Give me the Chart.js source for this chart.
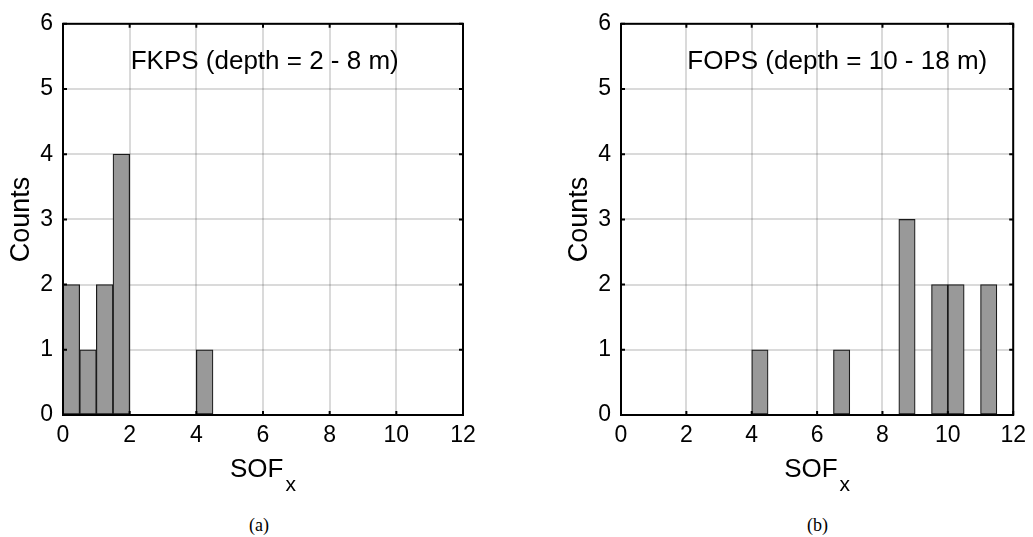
<!DOCTYPE html>
<html>
<head>
<meta charset="utf-8">
<script src="https://cdn.jsdelivr.net/npm/chart.js@4.4.0/dist/chart.umd.min.js"></script>
<style>
  body { margin: 0; background: #fff; width: 1033px; height: 537px; position: relative; overflow: hidden; }
  .panel { position: absolute; top: 0; }
  .caption { position: absolute; top: 516px; font-family: "Liberation Serif", "DejaVu Serif", serif; font-size: 18px; line-height: 18px; color: #000; }
</style>
</head>
<body>
<div class="panel" style="left:0"><canvas id="chartA" width="500" height="505"></canvas></div>
<div class="panel" style="left:558px"><canvas id="chartB" width="475" height="505"></canvas></div>
<div class="caption" style="left:249px">(a)</div>
<div class="caption" style="left:807px">(b)</div>

<script>
// histogram bins (left edge of each non-empty bin) and counts
const binWidth = 0.5;
const binStartA = [0, 0.5, 1, 1.5, 4];
const countsA = [2, 1, 2, 4, 1];
const binStartB = [4, 6.5, 8.5, 9.5, 10, 11];
const countsB = [1, 1, 3, 2, 2, 2];

// axis ticks
const xTicks = [0, 2, 4, 6, 8, 10, 12];
const yTicks = [0, 1, 2, 3, 4, 5, 6];

const labelA = "FKPS (depth = 2 - 8 m)";
const labelB = "FOPS (depth = 10 - 18 m)";

const FONT = '"Liberation Sans", Arial, Helvetica, sans-serif';

// box, inner tick marks, in-plot label and SOF_x title
const framePlugin = {
  id: 'frame',
  afterDraw(chart, args, opts) {
    const { ctx, chartArea: a, scales: { x, y } } = chart;
    ctx.save();
    ctx.strokeStyle = '#000';
    ctx.lineWidth = 2;
    ctx.beginPath();
    x.ticks.forEach(t => {
      const px = x.getPixelForValue(t.value);
      ctx.moveTo(px, a.bottom); ctx.lineTo(px, a.bottom - 4);
      ctx.moveTo(px, a.top); ctx.lineTo(px, a.top + 4);
    });
    y.ticks.forEach(t => {
      const py = y.getPixelForValue(t.value);
      ctx.moveTo(a.left, py); ctx.lineTo(a.left + 4, py);
      ctx.moveTo(a.right, py); ctx.lineTo(a.right - 4, py);
    });
    ctx.stroke();
    ctx.strokeRect(a.left, a.top, a.right - a.left, a.bottom - a.top);

    // label inside the plot
    ctx.fillStyle = '#000';
    ctx.textAlign = 'left';
    ctx.textBaseline = 'alphabetic';
    ctx.font = '26px ' + FONT;
    ctx.fillText(opts.text, x.getPixelForValue(opts.x), y.getPixelForValue(opts.y));

    // x axis title with subscript
    ctx.font = '26px ' + FONT;
    const w1 = ctx.measureText('SOF').width;
    ctx.font = '21px ' + FONT;
    const w2 = ctx.measureText('x').width;
    const cx = (a.left + a.right) / 2;
    const x0 = cx - (w1 + 2 + w2) / 2;
    ctx.font = '26px ' + FONT;
    ctx.fillText('SOF', x0, a.bottom + 62);
    ctx.font = '21px ' + FONT;
    ctx.fillText('x', x0 + w1 + 2, a.bottom + 76);
    ctx.restore();
  }
};

function makeHist(id, starts, counts, text, padRight) {
  const canvas = document.getElementById(id);
  const xHeight = canvas.height - 415;
  const data = starts.map((s, i) => ({ x: s + binWidth / 2, y: counts[i] }));
  return new Chart(canvas, {
    type: 'bar',
    data: {
      datasets: [{
        data: data,
        backgroundColor: '#999999',
        borderColor: '#1a1a1a',
        borderWidth: 1.2,
        borderSkipped: false,
        barPercentage: 1,
        categoryPercentage: 1
      }]
    },
    options: {
      responsive: false,
      animation: false,
      devicePixelRatio: 1,
      layout: { padding: { top: 16, left: 0, right: padRight, bottom: 0 } },
      plugins: {
        legend: { display: false },
        tooltip: { enabled: false },
        frame: { text: text, x: 2.03, y: 5.3 }
      },
      scales: {
        x: {
          type: 'linear',
          min: xTicks[0],
          max: xTicks[xTicks.length - 1],
          offset: false,
          z: 1,
          afterBuildTicks: s => { s.ticks = xTicks.map(v => ({ value: v })); },
          afterFit: s => { s.height = xHeight; },
          grid: { color: 'rgba(38,38,38,0.17)', lineWidth: 2, drawTicks: false, offset: false },
          border: { display: false },
          ticks: { padding: 7, color: '#000', maxRotation: 0, font: { size: 23, family: FONT } }
        },
        y: {
          min: yTicks[0],
          max: yTicks[yTicks.length - 1],
          z: 1,
          afterBuildTicks: s => { s.ticks = yTicks.map(v => ({ value: v })); },
          afterFit: s => { s.width = 63; },
          grid: { color: 'rgba(38,38,38,0.17)', lineWidth: 2, drawTicks: false },
          border: { display: false },
          ticks: { padding: 10, color: '#000', font: { size: 23, family: FONT } },
          title: { display: true, text: 'Counts', color: '#000', padding: { top: 5, bottom: 5 }, font: { size: 27, family: FONT } }
        }
      }
    },
    plugins: [framePlugin]
  });
}

makeHist('chartA', binStartA, countsA, labelA, 37);
makeHist('chartB', binStartB, countsB, labelB, 12);
</script>
</body>
</html>
